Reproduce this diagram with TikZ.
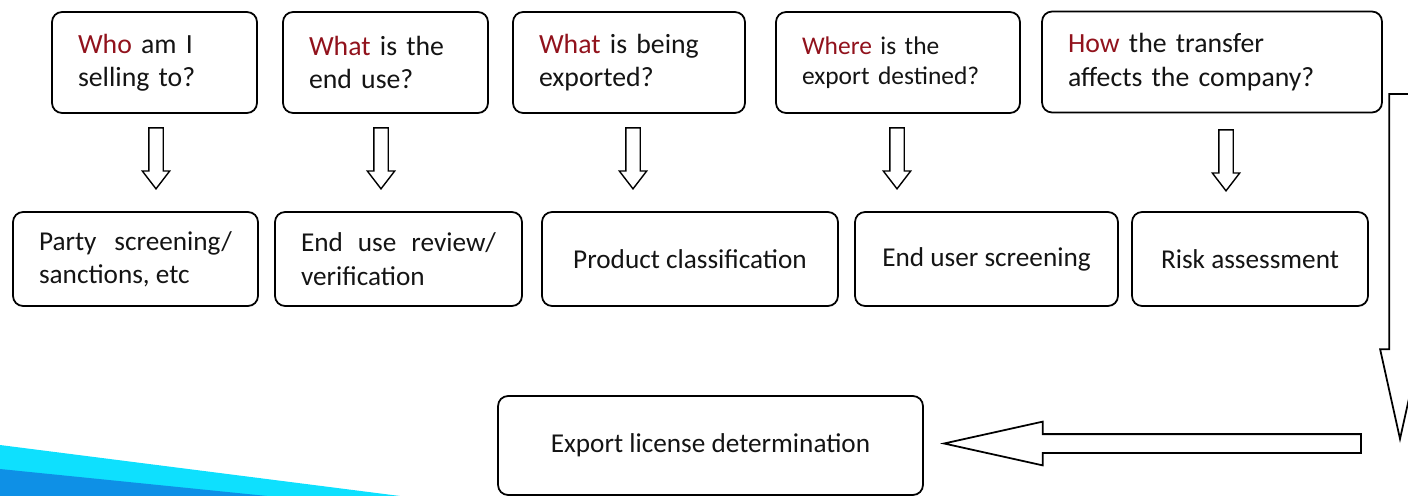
\documentclass[tikz,border=0pt]{standalone}
\usepackage{fontspec}
\setmainfont{Carlito}
\usetikzlibrary{shapes.arrows}
\definecolor{qred}{RGB}{145,18,28}
\definecolor{qtext}{RGB}{20,20,20}
\definecolor{bandcyan}{RGB}{14,224,254}
\definecolor{bandblue}{RGB}{14,144,230}
\newcommand{\qw}[1]{\textcolor{qred}{#1}}
\tikzset{qbox/.style={draw,rounded corners=2mm,line width=1pt,minimum height=2.02cm,inner xsep=5.2mm,align=left,text=qtext,font=\fontsize{15.8}{19}\selectfont},
abox/.style={draw,rounded corners=2mm,line width=1pt,minimum height=1.88cm,inner xsep=5.2mm,text=qtext,font=\fontsize{15.5}{19}\selectfont},
downarrow/.style={draw,line width=0.8pt,single arrow,rotate=-90,inner sep=1.3mm,minimum height=1.22cm,single arrow head extend=1.3mm,single arrow tip angle=75,anchor=tip},
bigarrow/.style={draw,line width=1pt,single arrow,single arrow tip angle=25,anchor=tip}}

\begin{document}
\begin{tikzpicture}[x=0.02cm,y=-0.02cm]
\useasboundingbox (0,0) rectangle (1408,496);
% corner band
\fill[bandcyan] (0,445) -- (400,496) -- (0,496) -- cycle;
\fill[bandblue] (0,469) -- (267,496) -- (0,496) -- cycle;
% questions
\node[qbox,text width=3.06cm] (q1) at (154.5,62.5) {\qw{Who} am I\\selling to?};
\node[qbox,text width=3.06cm] (q2) at (385.5,62.5) {\qw{What} is the\\end use?};
\node[qbox,text width=3.6cm] (q3) at (629,62.5) {\qw{What} is being\\exported?};
\node[qbox,text width=3.84cm,font=\fontsize{14.5}{17}\selectfont] (q4) at (898,62.5) {\qw{Where} is the\\export destined?};
\node[qbox,text width=5.76cm] (q5) at (1212,62) {\qw{How} the transfer\\affects the company?};
% checks
\node[abox,text width=3.86cm,align=justify] (a1) at (135.5,259) {Party screening/\linebreak sanctions, etc};
\node[abox,text width=3.9cm,align=justify] (a2) at (398.5,259) {End use review/\linebreak verification};
\node[abox,minimum width=5.92cm] (a3) at (690,259) {Product classification};
\node[abox,minimum width=5.26cm] (a4) at (986.5,259) {End user screening};
\node[abox,minimum width=4.72cm] (a5) at (1250,259) {Risk assessment};
% result
\node[abox,minimum width=8.5cm,minimum height=1.98cm] (e) at (710.5,445.5) {Export license determination};
% arrows between rows
\node[downarrow] (d1) at (156,190) {};
\node[downarrow] (d2) at (381,190) {};
\node[downarrow] (d3) at (633,190) {};
\node[downarrow] (d4) at (897,190) {};
\node[downarrow] (d5) at (1226,192) {};
% long arrows to the result
\node[bigarrow,rotate=-90,inner sep=0.2cm,minimum height=6.9cm,single arrow head extend=0.18cm] (r1) at (1400,443) {};
\node[bigarrow,rotate=180,inner sep=0.17cm,minimum height=8.34cm,single arrow head extend=0.25cm] (r2) at (940,443.5) {};
\end{tikzpicture}
\end{document}
